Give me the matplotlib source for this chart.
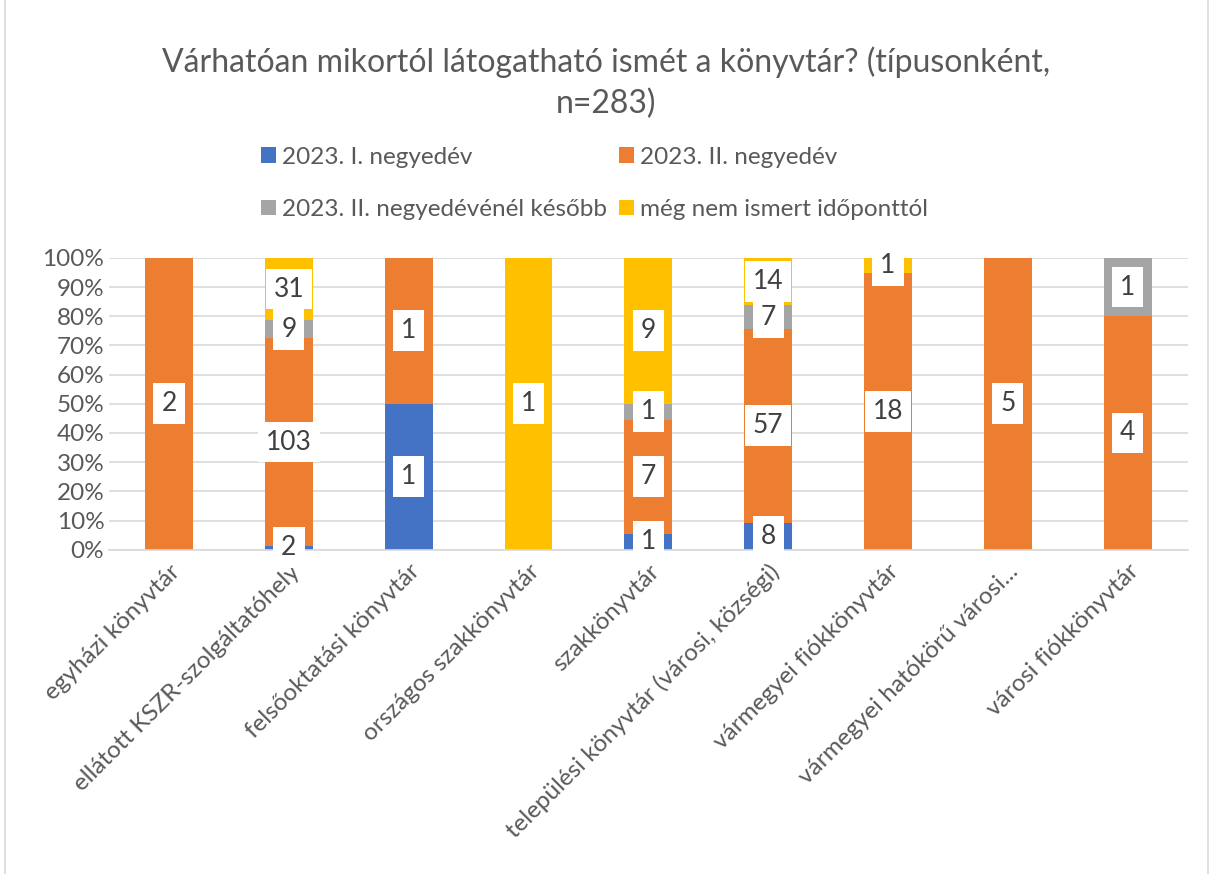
import matplotlib.pyplot as plt
import numpy as np
from matplotlib.patches import Rectangle
from matplotlib.ticker import PercentFormatter

plt.rcParams['font.family'] = ['Lato', 'DejaVu Sans']

categories = ['egyházi könyvtár', 'ellátott KSZR-szolgáltatóhely', 'felsőoktatási könyvtár',
              'országos szakkönyvtár', 'szakkönyvtár', 'települési könyvtár (városi, községi)',
              'vármegyei fiókkönyvtár', 'vármegyei hatókörű városi...', 'városi fiókkönyvtár']
series_names = ['2023. I. negyedév', '2023. II. negyedév',
                '2023. II. negyedévénél később', 'még nem ismert időponttól']
q1 = [0, 2, 1, 0, 1, 8, 0, 0, 0]
q2 = [2, 103, 1, 0, 7, 57, 18, 5, 4]
later = [0, 9, 0, 0, 1, 7, 0, 0, 1]
unknown = [0, 31, 0, 1, 9, 14, 1, 0, 0]
colors = ['#4472C4', '#ED7D31', '#A5A5A5', '#FFC000']

counts = np.array([q1, q2, later, unknown], dtype=float)
totals = counts.sum(axis=0)
shares = counts / totals

fig = plt.figure(figsize=(12.13, 8.74), dpi=100)
fig.patches.append(Rectangle((0.004, -0.01), 0.992, 1.02, transform=fig.transFigure,
                             fill=False, edgecolor='#D9D9D9', linewidth=1.2))
ax = fig.add_axes([0.090, 0.371, 0.889, 0.334])

x = np.arange(len(categories))
bottom = np.zeros(len(categories))
handles = []
for i in range(4):
    h = ax.bar(x, shares[i], 0.4, bottom=bottom, color=colors[i], label=series_names[i], zorder=2)
    handles.append(h)
    for j in range(len(categories)):
        if counts[i, j] > 0:
            ax.text(x[j], bottom[j] + shares[i, j] / 2, str(int(counts[i, j])),
                    ha='center', va='center', fontsize=19, color='#404040', zorder=4,
                    bbox=dict(boxstyle='square,pad=0.3', facecolor='white', edgecolor='none'))
    bottom += shares[i]

ax.set_xlim(-0.5, len(categories) - 0.5)
ax.set_ylim(0, 1)
ax.set_yticks(np.arange(0, 1.01, 0.1))
ax.yaxis.set_major_formatter(PercentFormatter(1.0, decimals=0))
ax.grid(axis='y', color='#D9D9D9', linewidth=1.2, zorder=0)
for s in ['top', 'right', 'left']:
    ax.spines[s].set_visible(False)
ax.spines['bottom'].set_color('#D9D9D9')
ax.spines['bottom'].set_linewidth(1.2)
ax.tick_params(axis='both', length=0, labelsize=17.5, colors='#595959')
ax.tick_params(axis='x', pad=8)
ax.set_xticks(x)
ax.set_xticklabels(categories, rotation=45, ha='right', rotation_mode='anchor')

fig.text(0.5, 0.905, 'Várhatóan mikortól látogatható ismét a könyvtár? (típusonként,\nn=283)',
         ha='center', va='center', fontsize=23, color='#595959', linespacing=1.45)

order = [0, 2, 1, 3]
leg = fig.legend([handles[k] for k in order], [series_names[k] for k in order],
                 loc='center', bbox_to_anchor=(0.49, 0.79), ncol=2, frameon=False,
                 fontsize=17.5, handlelength=0.6, handleheight=0.6, handletextpad=0.25,
                 columnspacing=0.5, labelspacing=1.3, labelcolor='#595959')

fig.savefig('out.png', dpi=100)
plt.close(fig)
